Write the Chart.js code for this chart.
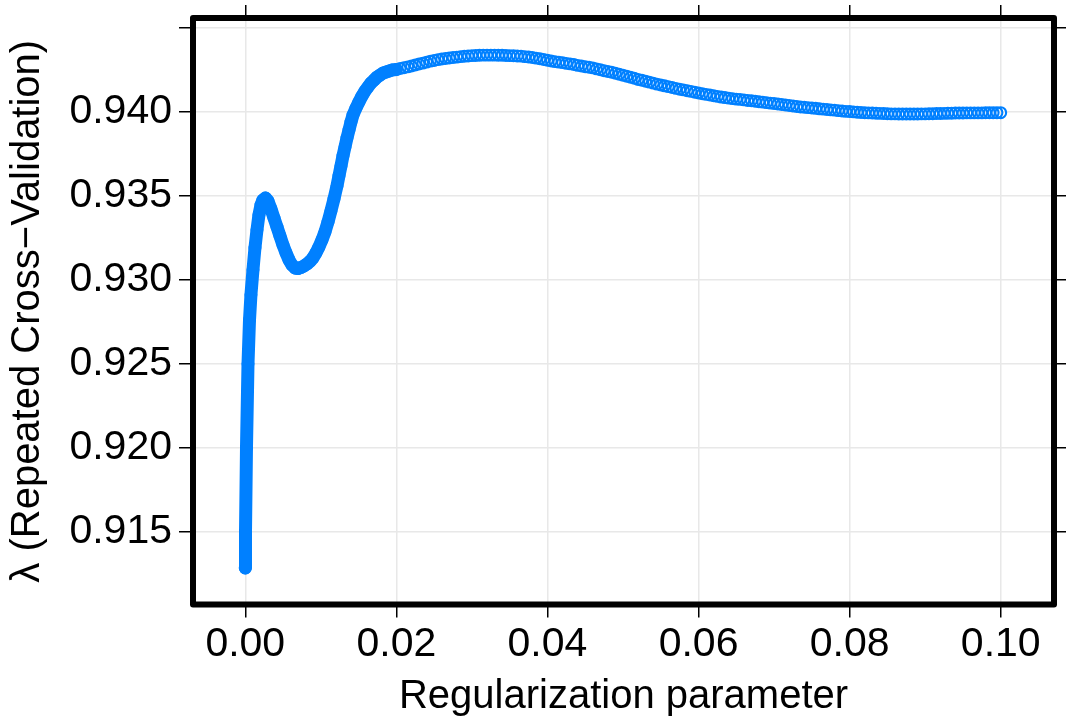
<!DOCTYPE html>
<html>
<head>
<meta charset="utf-8">
<script src="https://cdn.jsdelivr.net/npm/chart.js@4.4.1/dist/chart.umd.min.js"></script>
<style>
html, body { margin: 0; padding: 0; background: #fff; }
#wrap { width: 1066px; height: 722px; }
</style>
</head>
<body>
<div id="wrap"><canvas id="cvChart" width="1066" height="722"></canvas></div>
<script>
// ---------------- DATA ----------------

const lambdaGrid = [
  0, 0.00003, 0.00016, 0.00036, 0.00056, 0.00075, 0.00102, 0.00128, 0.00155, 0.00181,
  0.00208, 0.00234, 0.00267, 0.0030, 0.0034, 0.0038, 0.0042, 0.00459, 0.00499, 0.00539,
  0.00579, 0.00618, 0.00658, 0.00698, 0.00737, 0.00777, 0.00817, 0.00856, 0.00896, 0.00936,
  0.00975, 0.01015, 0.01055, 0.01095, 0.01134, 0.01174, 0.01214, 0.0124, 0.01267, 0.01293,
  0.0132, 0.01346, 0.01373, 0.01399, 0.01426, 0.01466, 0.01505, 0.01545, 0.01585, 0.01624,
  0.01664, 0.01704, 0.01743, 0.01783, 0.01823, 0.01862, 0.01902, 0.01942,
  0.0200, 0.0205, 0.0210, 0.0215, 0.0220, 0.0225, 0.0230, 0.0235, 0.0240, 0.0245,
  0.0250, 0.0255, 0.0260, 0.0265, 0.0270, 0.0275, 0.0280, 0.0285, 0.0290, 0.0295,
  0.0300, 0.0305, 0.0310, 0.0315, 0.0320, 0.0325, 0.0330, 0.0335, 0.0340, 0.0345,
  0.0350, 0.0355, 0.0360, 0.0365, 0.0370, 0.0375, 0.0380, 0.0385, 0.0390, 0.0395,
  0.0400, 0.0405, 0.0410, 0.0415, 0.0420, 0.0425, 0.0430, 0.0435, 0.0440, 0.0445,
  0.0450, 0.0455, 0.0460, 0.0465, 0.0470, 0.0475, 0.0480, 0.0485, 0.0490, 0.0495,
  0.0500, 0.0505, 0.0510, 0.0515, 0.0520, 0.0525, 0.0530, 0.0535, 0.0540, 0.0545,
  0.0550, 0.0555, 0.0560, 0.0565, 0.0570, 0.0575, 0.0580, 0.0585, 0.0590, 0.0595,
  0.0600, 0.0605, 0.0610, 0.0615, 0.0620, 0.0625, 0.0630, 0.0635, 0.0640, 0.0645,
  0.0650, 0.0655, 0.0660, 0.0665, 0.0670, 0.0675, 0.0680, 0.0685, 0.0690, 0.0695,
  0.0700, 0.0705, 0.0710, 0.0715, 0.0720, 0.0725, 0.0730, 0.0735, 0.0740, 0.0745,
  0.0750, 0.0755, 0.0760, 0.0765, 0.0770, 0.0775, 0.0780, 0.0785, 0.0790, 0.0795,
  0.0800, 0.0805, 0.0810, 0.0815, 0.0820, 0.0825, 0.0830, 0.0835, 0.0840, 0.0845,
  0.0850, 0.0855, 0.0860, 0.0865, 0.0870, 0.0875, 0.0880, 0.0885, 0.0890, 0.0895,
  0.0900, 0.0905, 0.0910, 0.0915, 0.0920, 0.0925, 0.0930, 0.0935, 0.0940, 0.0945,
  0.0950, 0.0955, 0.0960, 0.0965, 0.0970, 0.0975, 0.0980, 0.0985, 0.0990, 0.0995,
  0.1000
];

const cvAccuracy = [
  0.91284, 0.91500, 0.92000, 0.92500, 0.92762, 0.92911, 0.93060, 0.93190, 0.93298, 0.93387,
  0.93446, 0.93476, 0.93488, 0.93470, 0.93423, 0.93369, 0.93315, 0.93262, 0.93208, 0.93161,
  0.93119, 0.93089, 0.93071, 0.93068, 0.93074, 0.93083, 0.93095, 0.93110, 0.93131, 0.93161,
  0.93196, 0.93238, 0.93286, 0.93345, 0.93411, 0.93482, 0.93560, 0.93619, 0.93679, 0.93738,
  0.93792, 0.93845, 0.93893, 0.93940, 0.93982, 0.94024, 0.94060, 0.94095, 0.94125, 0.94149,
  0.94173, 0.94190, 0.94208, 0.94220, 0.94232, 0.94238, 0.94244, 0.94250,
  0.94253, 0.94259, 0.94264, 0.94269, 0.94274, 0.94280, 0.94286, 0.94291, 0.94297, 0.94303,
  0.94307, 0.94312, 0.94316, 0.94319, 0.94322, 0.94325, 0.94327, 0.94330, 0.94332, 0.94334,
  0.94336, 0.94337, 0.94338, 0.94339, 0.94339, 0.94339, 0.94339, 0.94338, 0.94338, 0.94337,
  0.94336, 0.94335, 0.94334, 0.94333, 0.94330, 0.94328, 0.94325, 0.94321, 0.94317, 0.94313,
  0.94308, 0.94304, 0.94300, 0.94297, 0.94294, 0.94290, 0.94287, 0.94283, 0.94278, 0.94274,
  0.94270, 0.94267, 0.94263, 0.94257, 0.94252, 0.94246, 0.94241, 0.94237, 0.94231, 0.94225,
  0.94219, 0.94213, 0.94207, 0.94201, 0.94194, 0.94189, 0.94183, 0.94178, 0.94172, 0.94166,
  0.94161, 0.94156, 0.94151, 0.94146, 0.94141, 0.94136, 0.94132, 0.94127, 0.94123, 0.94118,
  0.94113, 0.94109, 0.94105, 0.94101, 0.94097, 0.94093, 0.94089, 0.94086, 0.94083, 0.94080,
  0.94077, 0.94075, 0.94072, 0.94069, 0.94067, 0.94064, 0.94061, 0.94059, 0.94056, 0.94053,
  0.94051, 0.94048, 0.94045, 0.94042, 0.94039, 0.94036, 0.94033, 0.94030, 0.94028, 0.94026,
  0.94024, 0.94022, 0.94019, 0.94017, 0.94015, 0.94013, 0.94011, 0.94008, 0.94006, 0.94004,
  0.94003, 0.94001, 0.93999, 0.93997, 0.93996, 0.93995, 0.93994, 0.93993, 0.93992, 0.93991,
  0.93990, 0.93989, 0.93989, 0.93988, 0.93988, 0.93988, 0.93988, 0.93988, 0.93988, 0.93989,
  0.93989, 0.93990, 0.93990, 0.93991, 0.93991, 0.93992, 0.93993, 0.93993, 0.93994, 0.93994,
  0.93994, 0.93995, 0.93995, 0.93995, 0.93995, 0.93995, 0.93996, 0.93996, 0.93996, 0.93996,
  0.93996
];

const xTickValues = [0, 0.02, 0.04, 0.06, 0.08, 0.10];
const xTickLabels = ["0.00", "0.02", "0.04", "0.06", "0.08", "0.10"];
const yTickValues = [0.915, 0.920, 0.925, 0.930, 0.935, 0.940, 0.945];
const yTickLabels = ["0.915", "0.920", "0.925", "0.930", "0.935", "0.940", ""];

const xRange = [-0.00692, 0.10705];
const yRange = [0.910664, 0.945600];


// ---------------- CHART ----------------

const FONT = '"Liberation Sans", Arial, Helvetica, sans-serif';
const BLUE = "#0080ff";

const points = lambdaGrid.map((x, i) => ({ x: x, y: cvAccuracy[i] }));
// the steep start is so dense in the original that it reads as a solid band
const solidPart = points.filter(p => p.x <= 0.0201);

function setTicks(values) {
    return scale => { scale.ticks = values.map(v => ({ value: v })); };
}

// fixed box sizes so the plot frame lands where it is in the original
function fixBox(prop, px) {
    return scale => {
        scale[prop] = px;
        scale.paddingTop = 0;
        scale.paddingBottom = 0;
        scale.paddingLeft = 0;
        scale.paddingRight = 0;
    };
}

const gridBase = {
    color: "#e8e8e8",
    lineWidth: 1.5,
    tickColor: "#000",
    tickWidth: 1.5
};

const framePlugin = {
    id: "frame",
    afterDraw(chart) {
        const { ctx, chartArea: a } = chart;
        ctx.save();
        ctx.strokeStyle = "#000";
        ctx.lineWidth = 6;
        ctx.lineJoin = "round";
        ctx.strokeRect(a.left, a.top, a.right - a.left, a.bottom - a.top);
        ctx.restore();
    }
};

new Chart(document.getElementById("cvChart"), {
    type: "scatter",
    data: {
        datasets: [
            {
                data: solidPart,
                showLine: true,
                borderColor: BLUE,
                borderWidth: 13,
                borderCapStyle: "round",
                borderJoinStyle: "round",
                pointRadius: 0,
                tension: 0
            },
            {
                data: points,
                showLine: false,
                pointRadius: 5.4,
                pointBorderWidth: 2.1,
                pointBorderColor: BLUE,
                pointBackgroundColor: "rgba(0,0,0,0)"
            }
        ]
    },
    options: {
        responsive: false,
        animation: false,
        layout: { padding: 0, autoPadding: false },
        plugins: {
            legend: { display: false },
            tooltip: { enabled: false }
        },
        scales: {
            x: {
                type: "linear",
                position: "bottom",
                min: xRange[0],
                max: xRange[1],
                afterBuildTicks: setTicks(xTickValues),
                afterFit: fixBox("height", 117.5),
                grid: { ...gridBase, tickLength: 13 },
                border: { display: false },
                ticks: {
                    callback: (v, i) => xTickLabels[i],
                    autoSkip: false,
                    maxRotation: 0,
                    padding: 3,
                    color: "#000",
                    font: { family: FONT, size: 41 }
                },
                title: {
                    display: true,
                    text: "Regularization parameter",
                    color: "#000",
                    font: { family: FONT, size: 40 },
                    padding: { top: 0, bottom: 1 }
                }
            },
            x2: {
                type: "linear",
                position: "top",
                display: true,
                min: xRange[0],
                max: xRange[1],
                afterBuildTicks: setTicks(xTickValues),
                afterFit: fixBox("height", 18),
                grid: { ...gridBase, drawOnChartArea: false, tickLength: 13 },
                border: { display: false },
                ticks: { callback: () => "" }
            },
            y: {
                type: "linear",
                position: "left",
                min: yRange[0],
                max: yRange[1],
                afterBuildTicks: setTicks(yTickValues),
                afterFit: fixBox("width", 193),
                grid: { ...gridBase, tickLength: 14 },
                border: { display: false },
                ticks: {
                    callback: (v, i) => yTickLabels[i],
                    autoSkip: false,
                    padding: 7,
                    color: "#000",
                    font: { family: FONT, size: 41 }
                },
                title: {
                    display: true,
                    text: "λ (Repeated Cross\u2212Validation)",
                    color: "#000",
                    font: { family: FONT, size: 40 },
                    padding: { top: 4, bottom: 0 }
                }
            },
            y2: {
                type: "linear",
                position: "right",
                display: true,
                min: yRange[0],
                max: yRange[1],
                afterBuildTicks: setTicks(yTickValues),
                afterFit: fixBox("width", 12),
                grid: { ...gridBase, drawOnChartArea: false, tickLength: 12 },
                border: { display: false },
                ticks: { callback: () => "" }
            }
        }
    },
    plugins: [framePlugin]
});
</script>
</body>
</html>
